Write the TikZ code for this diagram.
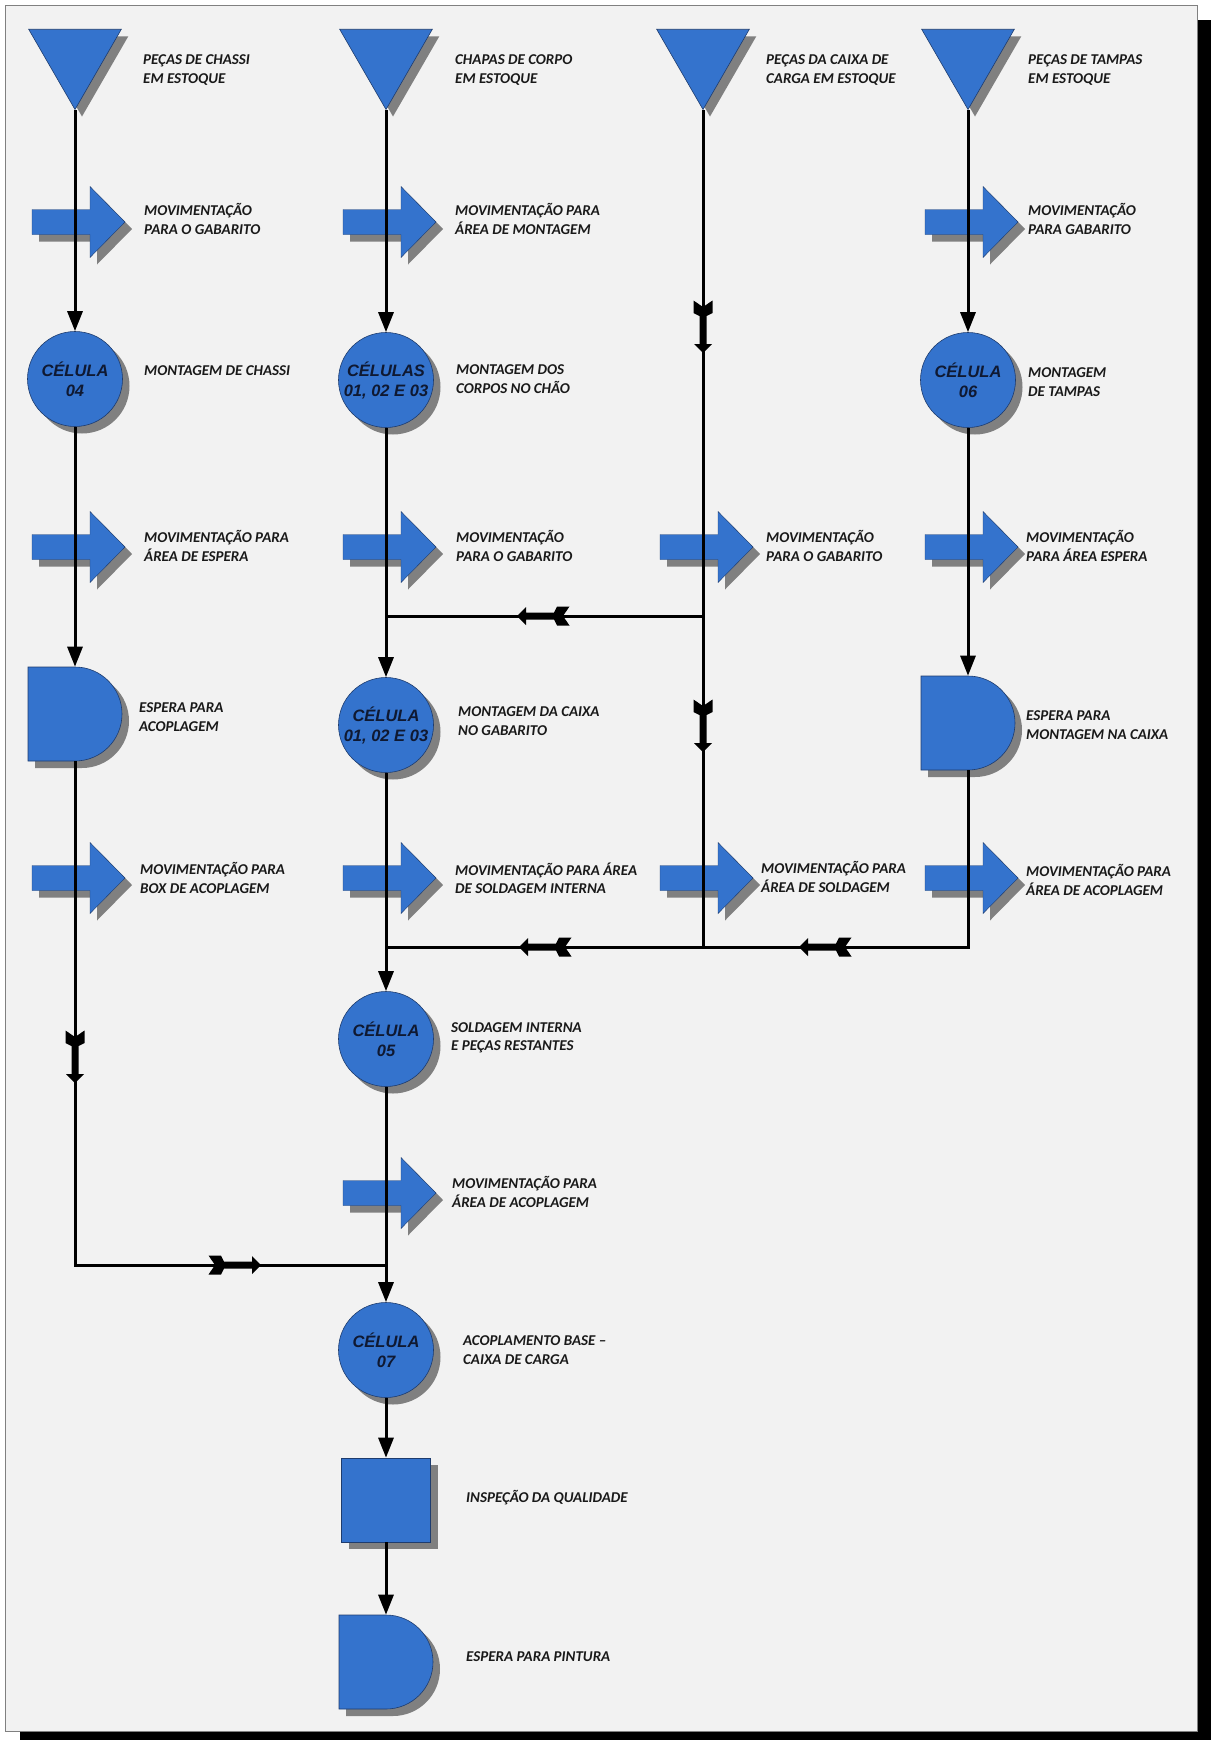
\documentclass[tikz,border=0pt]{standalone}
\usepackage{fontspec}
\setmainfont{Carlito}
\newfontfamily\celfonte{Liberation Sans}
\usetikzlibrary{arrows.meta,shapes.geometric,shapes.misc,shadows}

\definecolor{azul}{RGB}{52,115,205}
\definecolor{azulesc}{RGB}{30,60,110}
\definecolor{sombra}{RGB}{128,128,128}
\definecolor{fundo}{RGB}{242,242,242}
\definecolor{texto}{RGB}{25,25,25}
\definecolor{celtexto}{RGB}{15,25,50}

\tikzset{
  rotulo/.style={anchor=west,align=left,inner sep=0pt,text=texto,
    font=\bfseries\itshape\fontsize{15}{18.5}\selectfont},
  simbolo/.style={fill=azul,draw=azulesc,line width=0.6pt,
    drop shadow={shadow xshift=7pt,shadow yshift=-7pt,fill=sombra,opacity=1}},
  celula/.style={simbolo,circle,minimum size=95pt,inner sep=0pt,align=center,text=celtexto,
    font=\celfonte\bfseries\itshape\fontsize{16.5}{20}\selectfont},
  estoque/.style={simbolo,regular polygon,regular polygon sides=3,shape border rotate=180,
    minimum size=107pt,inner sep=0pt},
  espera/.style={simbolo,rounded rectangle,rounded rectangle left arc=none,
    minimum width=92pt,minimum height=94pt,inner sep=0pt},
  inspecao/.style={simbolo,rectangle,minimum width=89pt,minimum height=84pt,inner sep=0pt},
  fio/.style={line width=3pt,black},
  seta/.style={fio,-{Triangle[length=20pt,width=15pt]}},
  movim/.pic={
    \filldraw[simbolo,line width=0.4pt] (-43pt,12.5pt) -- (15pt,12.5pt) -- (15pt,35.5pt) -- (50pt,0pt)
      -- (15pt,-35.5pt) -- (15pt,-12.5pt) -- (-43pt,-12.5pt) -- cycle;
  },
  flecha/.pic={
    \fill[black] (26pt,0pt) -- (17pt,9pt) -- (17pt,3.5pt) -- (-11pt,3.5pt) -- (-14pt,9.5pt)
      -- (-26.5pt,9.5pt) -- (-20pt,0pt) -- (-26.5pt,-9.5pt) -- (-14pt,-9.5pt) -- (-11pt,-3.5pt)
      -- (17pt,-3.5pt) -- (17pt,-9pt) -- cycle;
  }
}

\begin{document}
\begin{tikzpicture}[x=1pt,y=-1pt,line join=miter]
  \def\ca{75}
  \def\cb{386}
  \def\cc{703}
  \def\cd{968}
  \useasboundingbox (0,0) rectangle (1211,1740);
  % folha
  \fill[black] (20,20) rectangle (1211,1740);
  \filldraw[fill=fundo,draw=sombra,line width=0.8pt] (5,5) rectangle (1197,1731);

  % setas de movimentacao
  \foreach \x/\y in {\ca/222,\cb/222,\cd/222,\ca/547,\cb/547,\cc/547,\cd/547,
                     \ca/878,\cb/878,\cc/878,\cd/878,\cb/1193}
    \pic at (\x,\y) {movim};

  % estoques
  \node[estoque] (est1) at (\ca,56) {};
  \node[estoque] (est2) at (\cb,56) {};
  \node[estoque] (est3) at (\cc,56) {};
  \node[estoque] (est4) at (\cd,56) {};

  % celulas
  \node[celula] (cel4) at (\ca,379) {CÉLULA\\04};
  \node[celula] (cel123a) at (\cb,380) {CÉLULAS\\01, 02 E 03};
  \node[celula] (cel6) at (\cd,380) {CÉLULA\\06};
  \node[celula] (cel123b) at (\cb,725) {CÉLULA\\01, 02 E 03};
  \node[celula] (cel5) at (\cb,1039) {CÉLULA\\05};
  \node[celula] (cel7) at (\cb,1350) {CÉLULA\\07};

  % esperas e inspecao
  \node[espera] (esp1) at (\ca,714) {};
  \node[espera] (esp4) at (\cd,723) {};
  \node[inspecao] (insp) at (\cb,1500) {};
  \node[espera] (espf) at (\cb,1662) {};

  % juncoes
  \coordinate (j1) at (\cb,616);
  \coordinate (k1) at (\cc,616);
  \coordinate (j2) at (\cb,947);
  \coordinate (k2) at (\cc,947);
  \coordinate (m2) at (\cd,947);
  \coordinate (a3) at (\ca,1265);
  \coordinate (j3) at (\cb,1265);

  % fluxo
  \draw[seta] (est1.south) -- (cel4.north);
  \draw[seta] (cel4.south) -- (esp1.north);
  \draw[fio] (esp1.south) -- (a3) -- (j3);
  \draw[seta] (est2.south) -- (cel123a.north);
  \draw[seta] (cel123a.south) -- (cel123b.north);
  \draw[seta] (cel123b.south) -- (cel5.north);
  \draw[seta] (cel5.south) -- (cel7.north);
  \draw[seta] (cel7.south) -- (insp.north);
  \draw[seta] (insp.south) -- (espf.north);
  \draw[fio] (est3.south) -- (k2) -- (j2);
  \draw[fio] (k1) -- (j1);
  \draw[seta] (est4.south) -- (cel6.north);
  \draw[seta] (cel6.south) -- (esp4.north);
  \draw[fio] (esp4.south) -- (m2) -- (k2);

  % flechas de transporte
  \foreach \x/\y/\r in {\cc/327/-90,\cc/726/-90,\ca/1057/-90,543/616/180,545/947/180,825/947/180,235/1265/0}
    \pic[rotate=\r] at (\x,\y) {flecha};

  % textos
  \node[rotulo] (t1) at (143,70) {PEÇAS DE CHASSI\\EM ESTOQUE};
  \node[rotulo] (t2) at (455,70) {CHAPAS DE CORPO\\EM ESTOQUE};
  \node[rotulo] (t3) at (766,70) {PEÇAS DA CAIXA DE\\CARGA EM ESTOQUE};
  \node[rotulo] (t4) at (1028,70) {PEÇAS DE TAMPAS\\EM ESTOQUE};
  \node[rotulo] (m11) at (144,219) {MOVIMENTAÇÃO\\PARA O GABARITO};
  \node[rotulo] (m12) at (455,219) {MOVIMENTAÇÃO PARA\\ÁREA DE MONTAGEM};
  \node[rotulo] (m14) at (1028,219) {MOVIMENTAÇÃO\\PARA GABARITO};
  \node[rotulo] (o1) at (144,371) {MONTAGEM DE CHASSI};
  \node[rotulo] (o2) at (456,379) {MONTAGEM DOS\\CORPOS NO CHÃO};
  \node[rotulo] (o4) at (1028,382) {MONTAGEM\\DE TAMPAS};
  \node[rotulo] (m21) at (144,546) {MOVIMENTAÇÃO PARA\\ÁREA DE ESPERA};
  \node[rotulo] (m22) at (456,546) {MOVIMENTAÇÃO\\PARA O GABARITO};
  \node[rotulo] (m23) at (766,546) {MOVIMENTAÇÃO\\PARA O GABARITO};
  \node[rotulo] (m24) at (1026,546) {MOVIMENTAÇÃO\\PARA ÁREA ESPERA};
  \node[rotulo] (e1) at (139,717) {ESPERA PARA\\ACOPLAGEM};
  \node[rotulo] (o5) at (458,721) {MONTAGEM DA CAIXA\\NO GABARITO};
  \node[rotulo] (e4) at (1026,725) {ESPERA PARA\\MONTAGEM NA CAIXA};
  \node[rotulo] (m31) at (140,878) {MOVIMENTAÇÃO PARA\\BOX DE ACOPLAGEM};
  \node[rotulo] (m32) at (455,878) {MOVIMENTAÇÃO PARA ÁREA\\DE SOLDAGEM INTERNA};
  \node[rotulo] (m33) at (761,877) {MOVIMENTAÇÃO PARA\\ÁREA DE SOLDAGEM};
  \node[rotulo] (m34) at (1026,880) {MOVIMENTAÇÃO PARA\\ÁREA DE ACOPLAGEM};
  \node[rotulo] (o6) at (451,1038) {SOLDAGEM INTERNA\\E PEÇAS RESTANTES};
  \node[rotulo] (m42) at (452,1192) {MOVIMENTAÇÃO PARA\\ÁREA DE ACOPLAGEM};
  \node[rotulo] (o7) at (463,1350) {ACOPLAMENTO BASE –\\CAIXA DE CARGA};
  \node[rotulo] (q1) at (466,1498) {INSPEÇÃO DA QUALIDADE};
  \node[rotulo] (ef) at (466,1657) {ESPERA PARA PINTURA};
\end{tikzpicture}
\end{document}
